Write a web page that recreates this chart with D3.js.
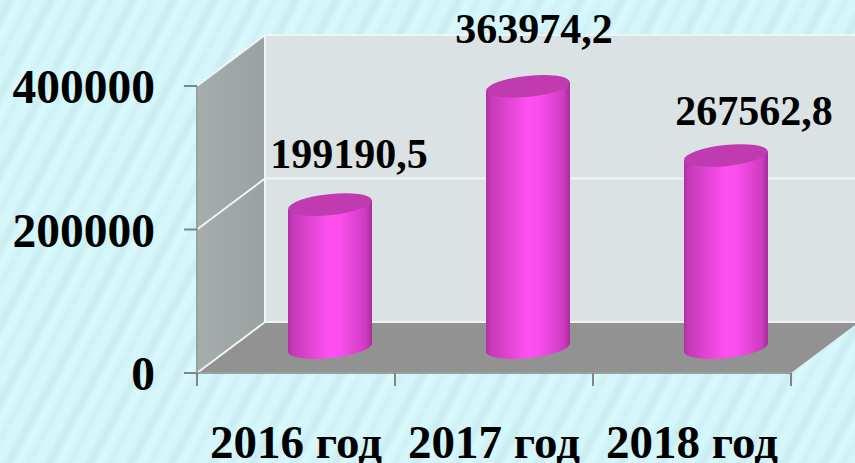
<!DOCTYPE html>
<html><head><meta charset="utf-8">
<style>html,body{margin:0;padding:0;background:#d5f7fb;overflow:hidden}svg{display:block}text{font-family:"Liberation Serif",serif;font-weight:bold;fill:#000}</style>
<script src="https://cdnjs.cloudflare.com/ajax/libs/d3/7.8.5/d3.min.js"></script>
</head><body><script>
const categories = ["2016 год","2017 год","2018 год"];
const values = [199190.5,363974.2,267562.8];
const valueLabels = ["199190,5","363974,2","267562,8"];
const yTicks = [0,200000,400000];
const W=855,H=463, dx=68, dy=-51;
const x=d3.scaleBand().domain(categories).range([197,791]);
const y=d3.scaleLinear().domain([0,400000]).range([373,86]);
const svg=d3.select("body").append("svg").attr("width",W).attr("height",H);
const defs=svg.append("defs");
const blur=defs.append("filter").attr("id","soft").attr("filterUnits","userSpaceOnUse").attr("x",-20).attr("y",-20).attr("width",W+40).attr("height",H+40);
blur.append("feGaussianBlur").attr("stdDeviation",2);
const p=defs.append("pattern").attr("id","bg").attr("patternUnits","userSpaceOnUse").attr("width",36).attr("height",60).attr("patternTransform","rotate(28)");
p.append("rect").attr("width",36).attr("height",60).attr("fill","#d5f7fb");
p.append("rect").attr("x",5).attr("width",8).attr("height",60).attr("fill","#cbecf1");
p.append("rect").attr("x",15).attr("width",4).attr("height",60).attr("fill","#dbfafd");
p.append("rect").attr("x",24).attr("width",5).attr("height",60).attr("fill","#ceeff4");
svg.append("rect").attr("x",-20).attr("y",-20).attr("width",W+40).attr("height",H+40).attr("fill","url(#bg)").attr("filter","url(#soft)");
const g=defs.append("linearGradient").attr("id","cyl");
[[0,"#b030a4"],[.06,"#c63ab8"],[.5,"#ff50f2"],[.62,"#fb4eee"],[.92,"#cf3cc2"],[1,"#a82c9c"]].forEach(s=>g.append("stop").attr("offset",s[0]).attr("stop-color",s[1]));
const side=defs.append("linearGradient").attr("id","side").attr("x1",0).attr("x2",1);
side.append("stop").attr("offset",0).attr("stop-color","#a6adad");
side.append("stop").attr("offset",1).attr("stop-color","#9aa1a1");
const x0=x.range()[0],x1=x.range()[1],yb=y(0),yt=y(400000);
const poly=(pts,fill)=>svg.append("polygon").attr("points",pts.map(q=>q.join(",")).join(" ")).attr("fill",fill);
const line=(a,b,c,w)=>svg.append("line").attr("x1",a[0]).attr("y1",a[1]).attr("x2",b[0]).attr("y2",b[1]).attr("stroke",c).attr("stroke-width",w);
// walls
poly([[x0+dx,yt+dy],[W,yt+dy],[W,yb+dy],[x0+dx,yb+dy]],"#dbe2e3");
poly([[x0,yt],[x0+dx,yt+dy],[x0+dx,yb+dy],[x0,yb]],"url(#side)");
poly([[x0,yb],[x0+dx,yb+dy],[x1+dx,yb+dy],[x1,yb]],"#929292");
// grid
yTicks.forEach(t=>{
  const v=y(t);
  line([x0,v],[x0+dx,v+dy],"#f1f4f4",2);
  line([x0+dx,v+dy],[W,v+dy],"#f1f4f4",2);
});
line([x0+dx,yt+dy],[x0+dx,yb+dy],"#f1f4f4",2);
// axes
line([x0,yt],[x0,yb],"#9aa0a0",2);
line([x0,yb],[x1,yb],"#9aa0a0",2);
yTicks.forEach(t=>line([x0-13,y(t)],[x0,y(t)],"#808686",2));
x.domain().concat(["end"]).forEach(c=>{const px=c==="end"?x1:x(c);line([px,yb],[px,yb+13],"#808686",2);});
// bars
const rx=42, ry=10.5, rot=-6;
const baseY=y(0)-25.5;
const labelDx=[19,6,28], labelY=[168,43,125];
const bars=svg.append("g").selectAll("g").data(values).join("g");
bars.each(function(v,i){
  const cx=x(categories[i])+x.bandwidth()/2+dx/2;
  const top=baseY-(y(0)-y(v));
  const sel=d3.select(this);
  const yOff=rx*Math.sin(-rot*Math.PI/180);
  sel.append("path").attr("fill","url(#cyl)")
   .attr("d",`M${cx-rx},${top+yOff} L${cx-rx},${baseY+yOff} A${rx},${ry} ${rot} 0 0 ${cx+rx},${baseY-yOff} L${cx+rx},${top-yOff} Z`);
  sel.append("ellipse").attr("cx",cx).attr("cy",top).attr("rx",rx).attr("ry",ry).attr("transform",`rotate(${rot} ${cx} ${top})`).attr("fill","#c03bb0");
  sel.append("text").attr("x",cx+labelDx[i]).attr("y",labelY[i]).attr("text-anchor","middle").attr("font-size",42).text(valueLabels[i]);
});
// tick labels
yTicks.forEach(t=>svg.append("text").attr("x",155).attr("y",y(t)+17).attr("text-anchor","end").attr("font-size",47.5).text(t));
categories.forEach(c=>svg.append("text").attr("x",x(c)+x.bandwidth()/2).attr("y",458).attr("text-anchor","middle").attr("font-size",47).text(c));
</script></body></html>
